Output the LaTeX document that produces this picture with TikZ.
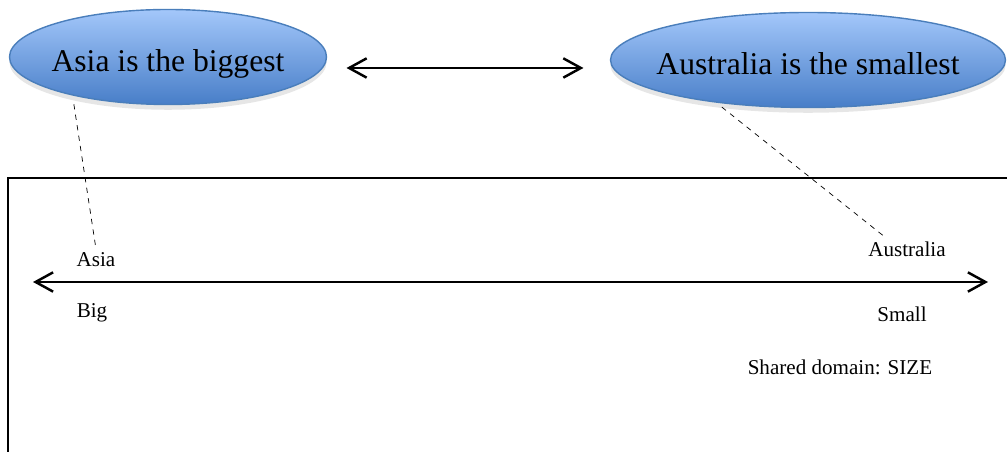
\documentclass[tikz,border=0pt]{standalone}
\usepackage{fontspec}
\setmainfont{Liberation Serif}
\usepackage{tikz}
\usetikzlibrary{positioning,
                arrows.meta,                % arrow tips
                shapes.geometric,           % ellipse
                shadows}

\definecolor{bubbletop}{RGB}{163,199,250}
\definecolor{bubblebot}{RGB}{72,126,200}
\definecolor{bubbleline}{RGB}{74,126,187}

\tikzset{
    bubble/.style={ellipse, draw=bubbleline, line width=0.8pt,
        top color=bubbletop, bottom color=bubblebot,
        drop shadow={opacity=0.2, shadow xshift=0pt, shadow yshift=-3pt},
        font=\fontsize{18}{20}\selectfont, inner xsep=-8pt, inner ysep=0pt,
        text height=20pt, text depth=4pt},
    scalelabel/.style={font=\fontsize{12}{14}\selectfont, inner sep=2pt},
    bigarrow/.style={{Straight Barb[length=10pt,width=11pt]}-{Straight Barb[length=10pt,width=11pt]},
        line width=1.4pt},
}

\begin{document}
\begin{tikzpicture}
    \useasboundingbox (0,0) rectangle (20.14,9.04);

    \node[bubble, minimum width=6.34cm, minimum height=1.9cm] (asiaell) at (3.36,7.90) {Asia is the biggest};
    \node[bubble, minimum width=7.9cm, minimum height=1.9cm] (ausell) at (16.16,7.84) {Australia is the smallest};

    \draw[bigarrow, shorten <=11pt, shorten >=15pt] (asiaell.east |- 0,7.68) -- (ausell.west |- 0,7.68);

    % the frame runs off the page at right and bottom
    \draw[line width=1.2pt] (0.16,0) -- (0.16,5.48) -- (20.14,5.48);

    \coordinate (lend) at (0.66,3.40);
    \coordinate (rend) at (19.76,3.40);
    \draw[bigarrow] (lend) -- (rend);

    \node[scalelabel] (asia) at (1.92,3.84) {Asia};
    \node[scalelabel] (big) at (1.84,2.78) {Big};
    \node[scalelabel] (australia) at (18.14,4.06) {Australia};
    \node[scalelabel] (small) at (18.04,2.76) {Small};
    \node[scalelabel] (domain) at (16.8,1.70) {Shared domain: SIZE};

    \draw[dashed, shorten <=5pt] (asiaell.202) -- (asia.north);
    \draw[dashed, shorten <=4pt] (ausell.205) -- (australia.152);
\end{tikzpicture}
\end{document}
